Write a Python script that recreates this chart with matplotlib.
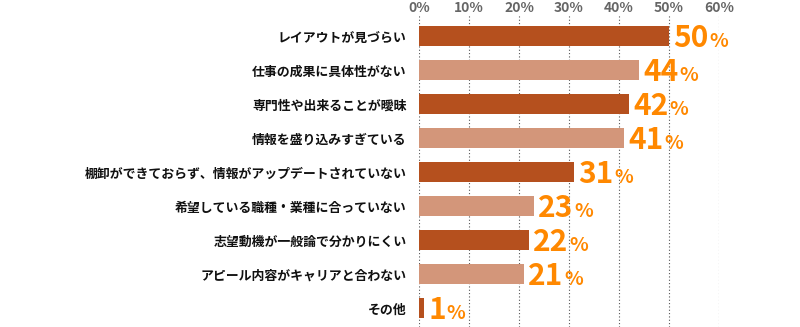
import matplotlib
matplotlib.use('Agg')
import matplotlib.pyplot as plt
import numpy as np

plt.rcParams['font.family'] = ['Noto Sans CJK JP', 'DejaVu Sans']

labels = ['レイアウトが見づらい',
          '仕事の成果に具体性がない',
          '専門性や出来ることが曖昧',
          '情報を盛り込みすぎている',
          '棚卸ができておらず、情報がアップデートされていない',
          '希望している職種・業種に合っていない',
          '志望動機が一般論で分かりにくい',
          'アピール内容がキャリアと合わない',
          'その他']
values = [50, 44, 42, 41, 31, 23, 22, 21, 1]
ticks = [0, 10, 20, 30, 40, 50, 60]

dark = '#b5501e'
light = '#d3967a'
orange = '#ff8800'

fig = plt.figure(figsize=(8, 3.27), dpi=100)
ax = fig.add_axes([419 / 800, 0, 300 / 800, 312 / 327])

y = np.arange(len(values))
bar_colors = [dark if i % 2 == 0 else light for i in range(len(values))]
ax.barh(y, values, height=0.58, color=bar_colors, zorder=2)

ax.set_xlim(0, 60)
ax.set_ylim(8.56, -0.62)

# top tick labels
ax.xaxis.tick_top()
ax.set_xticks(ticks)
ax.set_xticklabels([f'{t}%' for t in ticks], color='#666666', fontsize=10,
                   fontweight='bold')
for lbl in ax.get_xticklabels():
    lbl.set_va('baseline')
ax.tick_params(axis='x', length=0, pad=2.2)
ax.grid(axis='x', color='#555555', linestyle=(0, (1, 2)), linewidth=0.8, zorder=0)

ax.set_yticks(y)
ax.set_yticklabels(labels, fontsize=9.3, fontweight='bold', color='#111111')
ax.tick_params(axis='y', length=0, pad=9)

for s in ax.spines.values():
    s.set_visible(False)

# value labels: big number + smaller %
fig.canvas.draw()
for yi, v in zip(y, values):
    t = ax.annotate(str(v), xy=(v, yi), xytext=(4, -11), textcoords='offset pixels',
                    va='baseline', ha='left', fontsize=21.5, fontweight='bold',
                    color=orange)
    w = t.get_window_extent(renderer=fig.canvas.get_renderer()).width
    ax.annotate('%', xy=(v, yi), xytext=(4 + w + 1, -11), textcoords='offset pixels',
                va='baseline', ha='left', fontsize=14, fontweight='bold',
                color=orange)

fig.savefig('out.png', dpi=100)
